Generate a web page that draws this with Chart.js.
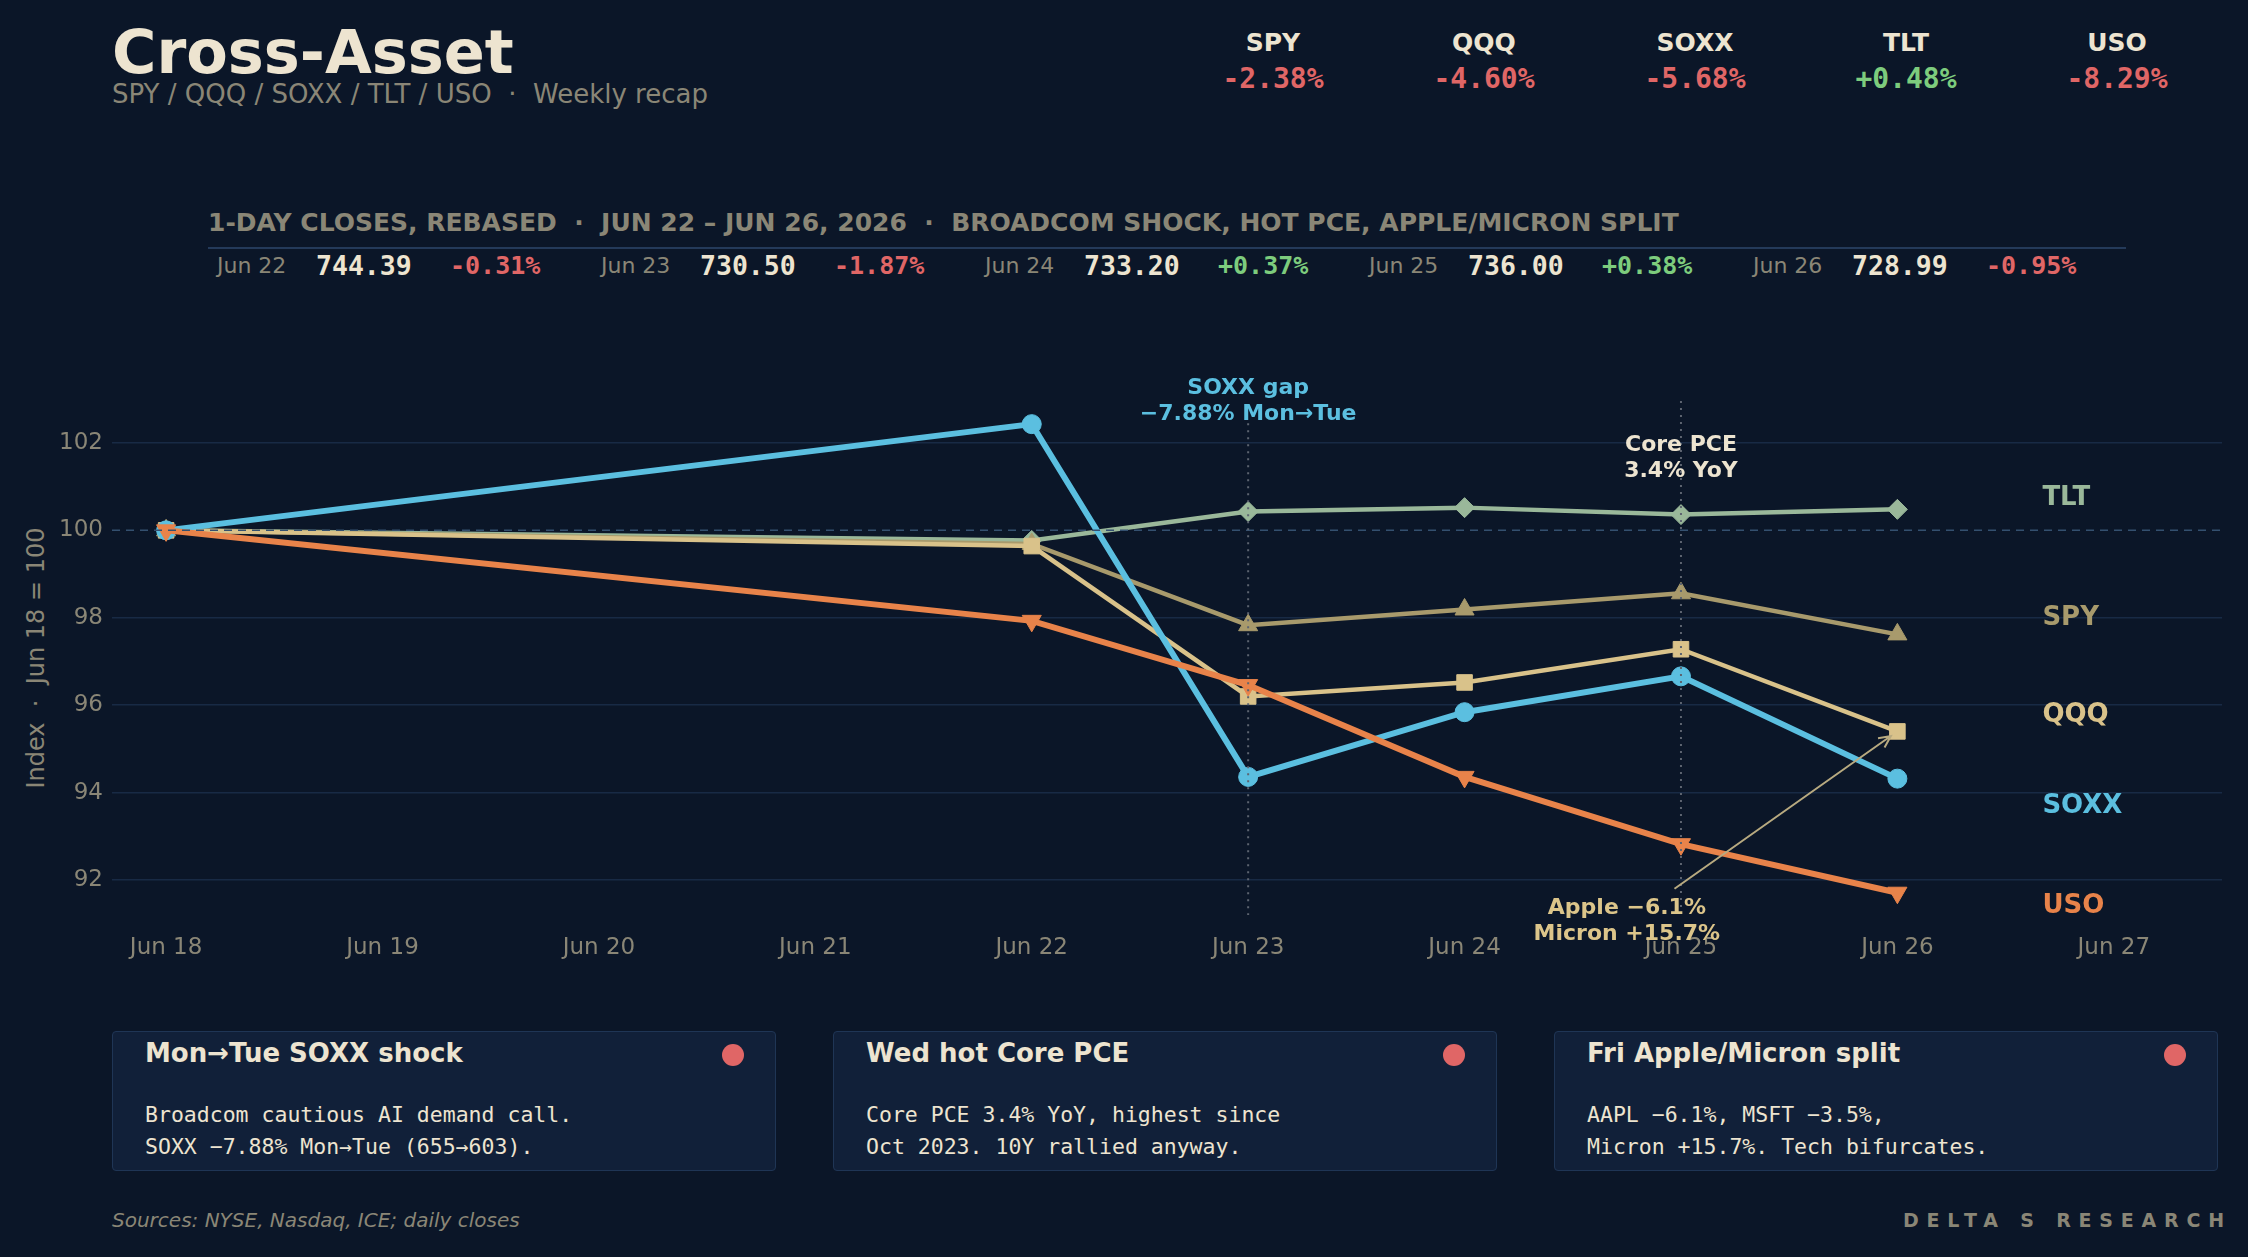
<!DOCTYPE html>
<html lang="en">
<head>
  <meta charset="UTF-8">
  <title>Cross-Asset Weekly Recap</title>
  <script src="https://cdn.jsdelivr.net/npm/chart.js"></script>
  <style>
    html, body {
      margin: 0;
      padding: 0;
      background-color: #0b1628;
    }
    #page {
      position: relative;
      width: 2248px;
      height: 1257px;
      overflow: hidden;
      background-color: #0b1628;
      font-family: "DejaVu Sans", sans-serif;
      color: #ede4d0;
    }
    .abs { position: absolute; line-height: 1; white-space: nowrap; }
    .mono { font-family: "DejaVu Sans Mono", monospace; }
    .neg { color: #e06666; }
    .pos { color: #7dcc7d; }
    .gray { color: #8a8676; }
    .card {
      position: absolute;
      top: 1031px;
      width: 662px;
      height: 138px;
      background-color: #112039;
      border: 1.5px solid #1f3555;
      border-radius: 4px;
    }
    .card .dot {
      position: absolute;
      right: 31px;
      top: 12px;
      width: 22px;
      height: 22px;
      border-radius: 50%;
      background-color: #e06666;
    }
    #chartBox {
      position: absolute;
      left: 0;
      top: 330px;
      width: 2248px;
      height: 660px;
    }
  </style>
</head>
<body>
<div id="page">
  <div class="abs" style="left:112px; top:22px; font-size:60.5px; font-weight:bold;">Cross-Asset</div>
  <div class="abs gray" style="left:112px; top:81px; font-size:26px;">SPY / QQQ / SOXX / TLT / USO &nbsp;·&nbsp; Weekly recap</div>

  <div id="tickers"></div>

  <div class="abs gray" style="left:208px; top:210px; font-size:25px; font-weight:bold;">1-DAY CLOSES, REBASED &nbsp;·&nbsp; JUN 22 – JUN 26, 2026 &nbsp;·&nbsp; BROADCOM SHOCK, HOT PCE, APPLE/MICRON SPLIT</div>
  <div class="abs" style="left:208px; top:247px; width:1918px; height:2px; background-color:#243a5a;"></div>
  <div id="closesRow"></div>

  <div class="abs gray" style="left:36px; top:658px; font-size:24px; transform:translate(-50%,-50%) rotate(-90deg);">Index &nbsp;·&nbsp; Jun 18 = 100</div>

  <div id="chartBox"><canvas id="chart" width="2248" height="660"></canvas></div>

  <div id="cards"></div>

  <div class="abs gray" style="left:112px; top:1210px; font-size:20px; font-style:italic;">Sources: NYSE, Nasdaq, ICE; daily closes</div>
  <div class="abs gray" style="right:16px; top:1211px; font-size:19px; font-weight:bold; letter-spacing:7.8px;">DELTA S RESEARCH</div>
</div>

<script>
  // x positions are days after Jun 18
  var dayLabels = ['Jun 18', 'Jun 19', 'Jun 20', 'Jun 21', 'Jun 22', 'Jun 23', 'Jun 24', 'Jun 25', 'Jun 26', 'Jun 27'];
  var tradeDays = [0, 4, 5, 6, 7, 8];

  // rebased closes, Jun 18 = 100
  var tltValues  = [100, 99.77, 100.43, 100.52, 100.36, 100.48];
  var spyValues  = [100, 99.69, 97.83, 98.19, 98.56, 97.62];
  var qqqValues  = [100, 99.64, 96.20, 96.52, 97.28, 95.40];
  var soxxValues = [100, 102.43, 94.36, 95.84, 96.66, 94.32];
  var usoValues  = [100, 97.93, 96.46, 94.36, 92.82, 91.71];

  var yTicks = [92, 94, 96, 98, 100, 102];

  // header strip
  var tickers = ['SPY', 'QQQ', 'SOXX', 'TLT', 'USO'];
  var weekChange = [-2.38, -4.60, -5.68, 0.48, -8.29];

  // daily closes row
  var rowDates = ['Jun 22', 'Jun 23', 'Jun 24', 'Jun 25', 'Jun 26'];
  var rowCloses = [744.39, 730.50, 733.20, 736.00, 728.99];
  var rowChange = [-0.31, -1.87, 0.37, 0.38, -0.95];

  // bottom cards
  var cardTitles = ['Mon→Tue SOXX shock', 'Wed hot Core PCE', 'Fri Apple/Micron split'];
  var cardLines = [
    ['Broadcom cautious AI demand call.', 'SOXX −7.88% Mon→Tue (655→603).'],
    ['Core PCE 3.4% YoY, highest since', 'Oct 2023. 10Y rallied anyway.'],
    ['AAPL −6.1%, MSFT −3.5%,', 'Micron +15.7%. Tech bifurcates.']
  ];

  function fmtPct(v) {
    return (v >= 0 ? '+' : '-') + Math.abs(v).toFixed(2) + '%';
  }

  var html = '';
  tickers.forEach(function(t, i) {
    var cx = 1273 + i * 211;
    html += '<div class="abs" style="left:' + cx + 'px; top:30px; font-size:25px; font-weight:bold; transform:translateX(-50%);">' + t + '</div>';
    html += '<div class="abs mono ' + (weekChange[i] >= 0 ? 'pos' : 'neg') + '" style="left:' + cx + 'px; top:65px; font-size:28px; font-weight:bold; transform:translateX(-50%);">' + fmtPct(weekChange[i]) + '</div>';
  });
  document.getElementById('tickers').innerHTML = html;

  html = '';
  rowDates.forEach(function(d, i) {
    var x0 = 217 + i * 384;
    html += '<div class="abs gray" style="left:' + x0 + 'px; top:255px; font-size:22px;">' + d + '</div>';
    html += '<div class="abs mono" style="left:' + (x0 + 99) + 'px; top:253px; font-size:26.5px; font-weight:bold;">' + rowCloses[i].toFixed(2) + '</div>';
    html += '<div class="abs mono ' + (rowChange[i] >= 0 ? 'pos' : 'neg') + '" style="left:' + (x0 + 233) + 'px; top:253px; font-size:25px; font-weight:bold;">' + fmtPct(rowChange[i]) + '</div>';
  });
  document.getElementById('closesRow').innerHTML = html;

  html = '';
  cardTitles.forEach(function(t, i) {
    var left = 112 + i * 721;
    html += '<div class="card" style="left:' + left + 'px;">' +
      '<div class="abs" style="left:32px; top:8px; font-size:26px; font-weight:bold;">' + t + '</div>' +
      '<div class="dot"></div>' +
      '<div class="abs mono" style="left:32px; top:72px; font-size:21.5px;">' + cardLines[i][0] + '</div>' +
      '<div class="abs mono" style="left:32px; top:104px; font-size:21.5px;">' + cardLines[i][1] + '</div>' +
      '</div>';
  });
  document.getElementById('cards').innerHTML = html;

  function points(values) {
    return values.map(function(v, i) { return { x: tradeDays[i], y: v }; });
  }

  // drawn first = on top, so USO leads
  var series = [
    { label: 'USO',  values: usoValues,  color: '#e8834a', width: 6,   style: 'triangle', radius: 11,  rotation: 180 },
    { label: 'SOXX', values: soxxValues, color: '#5bbfe0', width: 6,   style: 'circle',   radius: 9.5, rotation: 0 },
    { label: 'QQQ',  values: qqqValues,  color: '#d9c28a', width: 4.5, style: 'rect',     radius: 11,  rotation: 0 },
    { label: 'SPY',  values: spyValues,  color: '#a89a6c', width: 4.5, style: 'triangle', radius: 11,  rotation: 0 },
    { label: 'TLT',  values: tltValues,  color: '#9ab89a', width: 4.5, style: 'rectRot',  radius: 10,  rotation: 0 }
  ];

  // end-of-line labels (value coords)
  var endLabelX = 8.67;
  var endLabels = [
    { text: 'TLT',  y: 100.73, color: '#9ab89a' },
    { text: 'SPY',  y: 97.99,  color: '#a89a6c' },
    { text: 'QQQ',  y: 95.76,  color: '#d9c28a' },
    { text: 'SOXX', y: 93.68,  color: '#5bbfe0' },
    { text: 'USO',  y: 91.40,  color: '#e8834a' }
  ];

  var overlay = {
    id: 'overlay',
    afterDatasetsDraw: function(chart) {
      var ctx = chart.ctx, area = chart.chartArea;
      var xs = chart.scales.x, ys = chart.scales.y;
      ctx.save();

      // rebase line at 100
      ctx.strokeStyle = '#34506f';
      ctx.lineWidth = 1.5;
      ctx.setLineDash([8, 6]);
      ctx.beginPath();
      ctx.moveTo(area.left, ys.getPixelForValue(100));
      ctx.lineTo(area.right, ys.getPixelForValue(100));
      ctx.stroke();

      // event markers
      ctx.strokeStyle = '#5d6470';
      ctx.lineWidth = 2;
      ctx.setLineDash([2, 5]);
      [[5, 102.45], [7, 102.96]].forEach(function(m) {
        ctx.beginPath();
        ctx.moveTo(xs.getPixelForValue(m[0]), ys.getPixelForValue(m[1]));
        ctx.lineTo(xs.getPixelForValue(m[0]), area.bottom);
        ctx.stroke();
      });
      ctx.setLineDash([]);

      ctx.font = 'bold 22px "DejaVu Sans"';
      ctx.textAlign = 'center';
      ctx.textBaseline = 'middle';
      ctx.fillStyle = '#5bbfe0';
      ctx.fillText('SOXX gap', xs.getPixelForValue(5), ys.getPixelForValue(103.25));
      ctx.fillText('−7.88% Mon→Tue', xs.getPixelForValue(5), ys.getPixelForValue(102.66));
      ctx.fillStyle = '#ede4d0';
      ctx.fillText('Core PCE', xs.getPixelForValue(7), ys.getPixelForValue(101.95));
      ctx.fillText('3.4% YoY', xs.getPixelForValue(7), ys.getPixelForValue(101.35));

      // arrow to QQQ Friday close
      var ax = xs.getPixelForValue(6.97), ay = ys.getPixelForValue(91.80);
      var bx = xs.getPixelForValue(8), by = ys.getPixelForValue(qqqValues[5]);
      var ang = Math.atan2(by - ay, bx - ax);
      bx -= Math.cos(ang) * 8; by -= Math.sin(ang) * 8;
      ctx.strokeStyle = '#b8aa80';
      ctx.lineWidth = 2;
      ctx.beginPath();
      ctx.moveTo(ax, ay);
      ctx.lineTo(bx, by);
      ctx.moveTo(bx - Math.cos(ang - 0.45) * 13, by - Math.sin(ang - 0.45) * 13);
      ctx.lineTo(bx, by);
      ctx.lineTo(bx - Math.cos(ang + 0.45) * 13, by - Math.sin(ang + 0.45) * 13);
      ctx.stroke();

      ctx.fillStyle = '#dcc58a';
      ctx.fillText('Apple −6.1%', xs.getPixelForValue(6.75), ys.getPixelForValue(91.36));
      ctx.fillText('Micron +15.7%', xs.getPixelForValue(6.75), ys.getPixelForValue(90.76));

      // series labels on the right
      ctx.font = 'bold 26px "DejaVu Sans"';
      ctx.textAlign = 'left';
      endLabels.forEach(function(l) {
        ctx.fillStyle = l.color;
        ctx.fillText(l.text, xs.getPixelForValue(endLabelX), ys.getPixelForValue(l.y));
      });
      ctx.restore();
    }
  };

  new Chart(document.getElementById('chart').getContext('2d'), {
    type: 'line',
    data: {
      datasets: series.map(function(s) {
        return {
          label: s.label,
          data: points(s.values),
          borderColor: s.color,
          backgroundColor: s.color,
          borderWidth: s.width,
          pointStyle: s.style,
          pointRadius: s.radius,
          pointRotation: s.rotation,
          pointBackgroundColor: s.color,
          pointBorderColor: s.color,
          pointBorderWidth: 1,
          tension: 0,
          fill: false
        };
      })
    },
    options: {
      responsive: false,
      animation: false,
      devicePixelRatio: 1,
      layout: { padding: { top: 43, right: 26, bottom: 0, left: 0 } },
      plugins: { legend: { display: false }, tooltip: { enabled: false } },
      scales: {
        x: {
          type: 'linear',
          min: -0.25,
          max: 9.5,
          grid: { display: false },
          border: { display: false },
          afterBuildTicks: function(scale) {
            scale.ticks = dayLabels.map(function(_, i) { return { value: i }; });
          },
          afterFit: function(scale) { scale.height = 75; },
          ticks: {
            autoSkip: false,
            maxRotation: 0,
            padding: 11,
            color: '#8a8676',
            font: { family: 'DejaVu Sans', size: 23 },
            callback: function(v) { return dayLabels[v]; }
          }
        },
        y: {
          min: 91.2,
          max: 103.6,
          border: { display: false },
          grid: {
            drawTicks: false,
            lineWidth: 1.5,
            color: function(c) { return c.tick && c.tick.value === 100 ? 'rgba(0,0,0,0)' : '#182a45'; }
          },
          afterBuildTicks: function(scale) {
            scale.ticks = yTicks.map(function(v) { return { value: v }; });
          },
          afterFit: function(scale) { scale.width = 112; },
          ticks: {
            padding: 9,
            color: '#8a8676',
            font: { family: 'DejaVu Sans', size: 23 }
          }
        }
      }
    },
    plugins: [overlay]
  });
</script>
</body>
</html>
